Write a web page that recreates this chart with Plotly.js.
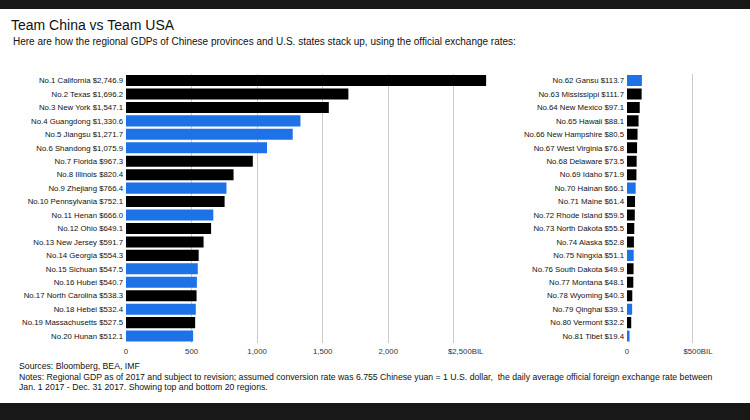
<!DOCTYPE html>
<html><head><meta charset="utf-8">
<script src="https://cdn.plot.ly/plotly-3.0.1.min.js"></script>
<style>
html,body{margin:0;padding:0;background:#181818;width:750px;height:420px;overflow:hidden}
#chart{position:absolute;left:0;top:9px;width:750px;height:394px;background:#fff}
</style>
</head><body><div id="chart"></div>
<script>
// Top 20 regions
const topRanks = [1,2,3,4,5,6,7,8,9,10,11,12,13,14,15,16,17,18,19,20];
const topNames = ["California","Texas","New York","Guangdong","Jiangsu","Shandong","Florida","Illinois","Zhejiang","Pennsylvania","Henan","Ohio","New Jersey","Georgia","Sichuan","Hubei","North Carolina","Hebei","Massachusetts","Hunan"];
const topValues = [2746.9,1696.2,1547.1,1330.6,1271.7,1075.9,967.3,820.4,766.4,752.1,666.0,649.1,591.7,554.3,547.5,540.7,538.3,532.4,527.5,512.1];
const topTeams = ["USA","USA","USA","China","China","China","USA","USA","China","USA","China","USA","USA","USA","China","China","USA","China","USA","China"];

// Bottom 20 regions
const botRanks = [62,63,64,65,66,67,68,69,70,71,72,73,74,75,76,77,78,79,80,81];
const botNames = ["Gansu","Mississippi","New Mexico","Hawaii","New Hampshire","West Virginia","Delaware","Idaho","Hainan","Maine","Rhode Island","North Dakota","Alaska","Ningxia","South Dakota","Montana","Wyoming","Qinghai","Vermont","Tibet"];
const botValues = [113.7,111.7,97.1,88.1,80.5,76.8,73.5,71.9,66.1,61.4,59.5,55.5,52.8,51.1,49.9,48.1,40.3,39.1,32.2,19.4];
const botTeams = ["China","USA","USA","USA","USA","USA","USA","USA","China","USA","USA","USA","USA","China","USA","USA","USA","China","USA","China"];

const NB = "\u00a0";
const leftTickVals = [0,500,1000,1500,2000,2500];
const leftTickText = ["0","500","1,000","1,500","2,000",NB.repeat(11)+"$2,500BIL"];
const rightTickVals = [0,500];
const rightTickText = ["0",NB.repeat(5)+"$500BIL"];

const teamColors = {China:"#1d72e8", USA:"#000000"};
const FONT = "Liberation Sans, Arial, Helvetica, sans-serif";

function fmt(v){return v.toLocaleString("en-US",{minimumFractionDigits:1,maximumFractionDigits:1});}
function labels(ranks,names,values){return ranks.map((r,i)=>"No."+r+" "+names[i]+" $"+fmt(values[i]));}

const topLabels = labels(topRanks,topNames,topValues);
const botLabels = labels(botRanks,botNames,botValues);

const traces = [
  {type:"bar",orientation:"h",x:topValues,y:topLabels,xaxis:"x",yaxis:"y",
   marker:{color:topTeams.map(t=>teamColors[t])},hoverinfo:"x+y",showlegend:false},
  {type:"bar",orientation:"h",x:botValues,y:botLabels,xaxis:"x2",yaxis:"y2",
   marker:{color:botTeams.map(t=>teamColors[t])},hoverinfo:"x+y",showlegend:false}
];

const H = 394;
const yDom = [(H-333.8)/H, (H-64.8)/H];
const tickFont = {family:FONT,size:7.8,color:"#111"};
const xTickFont = {family:FONT,size:7.8,color:"#333"};

const xCommon = {showgrid:true,gridcolor:"#cccccc",gridwidth:1,zeroline:true,zerolinecolor:"rgba(0,0,0,0)",
  showline:false,ticks:"",tickfont:xTickFont,fixedrange:true,tickmode:"array",ticklabelstandoff:2};
const yCommon = {type:"category",autorange:"reversed",showgrid:false,zeroline:false,showline:false,ticks:"",
  tickfont:tickFont,domain:yDom,fixedrange:true,automargin:false,ticklabelstandoff:2};

const layout = {
  width:750,height:H,
  margin:{l:0,r:0,t:0,b:0},
  paper_bgcolor:"#ffffff",plot_bgcolor:"#ffffff",
  bargap:0.18,
  font:{family:FONT,color:"#111"},
  title:{text:"Team China vs Team USA",x:11/750,xanchor:"left",xref:"paper",y:1-16/H,yanchor:"middle",yref:"paper",
    font:{family:FONT,size:14,color:"#111"}},
  xaxis:Object.assign({},xCommon,{domain:[126/750,(126+2800*0.1311)/750],range:[0,2800],
    tickvals:leftTickVals,ticktext:leftTickText,anchor:"y"}),
  xaxis2:Object.assign({},xCommon,{domain:[627/750,(627+600*0.1311)/750],range:[0,600],
    tickvals:rightTickVals,ticktext:rightTickText,anchor:"y2"}),
  yaxis:Object.assign({},yCommon,{anchor:"x"}),
  yaxis2:Object.assign({},yCommon,{anchor:"x2"}),
  annotations:[
    {text:"Here are how the regional GDPs of Chinese provinces and U.S. states stack up, using the official exchange rates:",
     xref:"paper",yref:"paper",x:11/750,y:1-32/H,xanchor:"left",yanchor:"middle",showarrow:false,
     font:{family:FONT,size:10,color:"#111"}},
    {text:"Sources: Bloomberg, BEA, IMF",xref:"paper",yref:"paper",x:17/750,y:1-357/H,xanchor:"left",yanchor:"middle",showarrow:false,
     font:{family:FONT,size:8.7,color:"#111"}},
    {text:"Notes: Regional GDP as of 2017 and subject to revision; assumed conversion rate was 6.755 Chinese yuan = 1 U.S. dollar,  the daily average official foreign exchange rate between",
     xref:"paper",yref:"paper",x:17/750,y:1-368/H,xanchor:"left",yanchor:"middle",showarrow:false,
     font:{family:FONT,size:8.7,color:"#111"}},
    {text:"Jan. 1 2017 - Dec. 31 2017. Showing top and bottom 20 regions.",
     xref:"paper",yref:"paper",x:17/750,y:1-378/H,xanchor:"left",yanchor:"middle",showarrow:false,
     font:{family:FONT,size:8.7,color:"#111"}}
  ]
};

Plotly.newPlot("chart",traces,layout,{displayModeBar:false,staticPlot:true});
</script>
</body></html>
